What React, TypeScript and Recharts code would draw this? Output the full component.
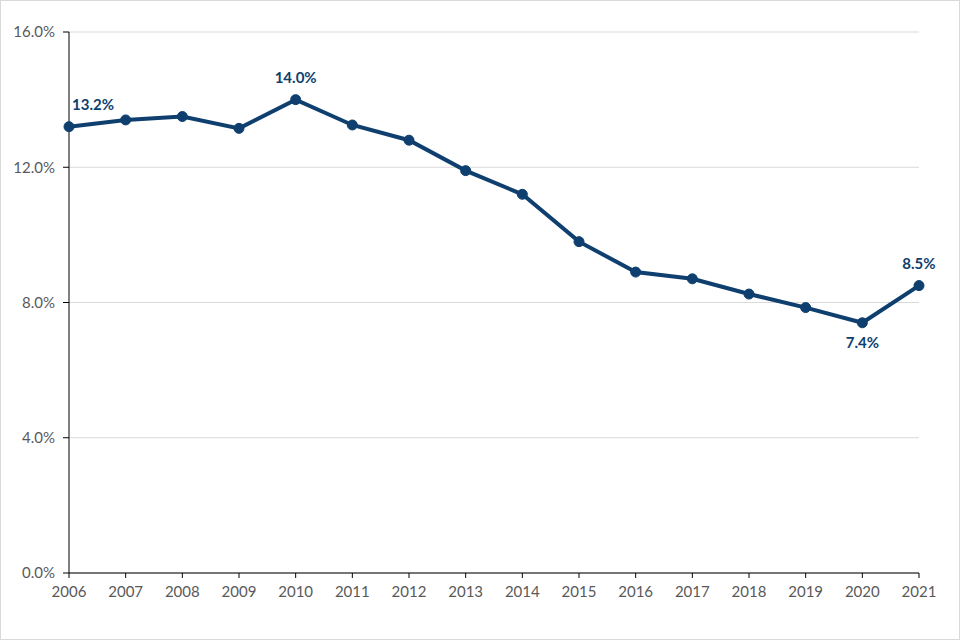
import React from 'react';
import { LineChart, Line, XAxis, YAxis, CartesianGrid } from 'recharts';

const years = ['2006','2007','2008','2009','2010','2011','2012','2013','2014','2015','2016','2017','2018','2019','2020','2021'];
const rates = [13.2, 13.4, 13.5, 13.15, 14.0, 13.25, 12.8, 11.9, 11.2, 9.8, 8.9, 8.7, 8.25, 7.85, 7.4, 8.5];
const yTicks = [0, 4, 8, 12, 16];
const labelled: Record<number, { pos: 'above' | 'below'; dx: number }> = {
  0: { pos: 'above', dx: 24 },
  4: { pos: 'above', dx: 0 },
  14: { pos: 'below', dx: 0 },
  15: { pos: 'above', dx: 0 },
};

const data = years.map((y, i) => ({ year: y, rate: rates[i] }));
const COLOR = '#0e3f6e';
const FONT = 'Lato, "Open Sans", sans-serif';

const PointLabel = (props: any) => {
  const { x, y, index, value } = props;
  const cfg = labelled[index];
  if (!cfg) return null;
  const ty = cfg.pos === 'above' ? y - 17 : y + 25;
  return (
    <text x={x + cfg.dx} y={ty} textAnchor="middle" fill={COLOR} fontSize={15} fontWeight={700} fontFamily={FONT}>
      {value.toFixed(1)}%
    </text>
  );
};

export default function App() {
  return (
    <div style={{ position: 'absolute', left: 0, top: 0, width: 960, height: 640, border: '1px solid #d9d9d9', boxSizing: 'border-box', background: '#fff' }}>
      <LineChart width={958} height={638} data={data} margin={{ top: 31, right: 40, bottom: 36, left: 8 }}>
        <CartesianGrid horizontal vertical={false} stroke="#d9d9d9" />
        <XAxis
          dataKey="year"
          axisLine={{ stroke: '#000' }}
          tickLine={{ stroke: '#000' }}
          tickSize={5}
          tickMargin={8}
          height={30}
          interval={0}
          tick={{ fill: '#595959', fontSize: 15, fontFamily: FONT }}
        />
        <YAxis
          domain={[0, 16]}
          ticks={yTicks}
          width={60}
          axisLine={{ stroke: '#000' }}
          tickLine={{ stroke: '#000' }}
          tickSize={6}
          tickMargin={8}
          tickFormatter={(v: number) => v.toFixed(1) + '%'}
          tick={{ fill: '#595959', fontSize: 15, fontFamily: FONT }}
        />
        <Line
          type="linear"
          dataKey="rate"
          stroke={COLOR}
          strokeWidth={4}
          dot={{ r: 5, fill: COLOR, stroke: COLOR, strokeWidth: 1 }}
          isAnimationActive={false}
          label={<PointLabel />}
        />
      </LineChart>
    </div>
  );
}
